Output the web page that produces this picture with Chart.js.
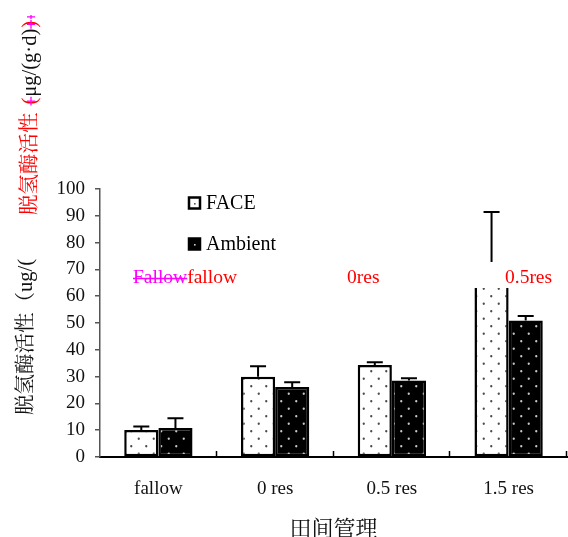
<!DOCTYPE html>
<html>
<head>
<meta charset="utf-8">
<script src="https://cdn.jsdelivr.net/npm/chart.js@4.4.1/dist/chart.umd.min.js"></script>
<style>
  html, body { margin: 0; padding: 0; background: #fff; }
  canvas { display: block; }
</style>
</head>
<body>
<canvas id="chart" width="568" height="537"></canvas>
<script>
const categories = ["fallow", "0 res", "0.5 res", "1.5 res"]
const faceValues = [10.1, 29.9, 34.3, 72.8]
const faceErrors = [1.3, 4.0, 1.1, 18.6]
const ambientValues = [10.8, 26.1, 28.5, 50.9]
const ambientErrors = [3.7, 1.8, 0.9, 1.7]
const yTicks = [0, 10, 20, 30, 40, 50, 60, 70, 80, 90, 100]

const SERIF = '"Liberation Serif", "Noto Serif CJK SC", "Noto Sans CJK SC", serif'

function dotPattern(bg, dot) {
  const c = document.createElement("canvas")
  c.width = 15
  c.height = 15
  const g = c.getContext("2d")
  g.fillStyle = bg
  g.fillRect(0, 0, 15, 15)
  g.fillStyle = dot
  for (const [x, y] of [[3.75, 3.75], [11.25, 11.25]]) {
    g.beginPath()
    g.arc(x, y, 1.15, 0, Math.PI * 2)
    g.fill()
  }
  return g.createPattern(c, "repeat")
}

const ctx0 = document.getElementById("chart").getContext("2d")
const facePattern = dotPattern("#ffffff", "#4a4a4a")
const ambientPattern = dotPattern("#000000", "#c8c8c8")

// error bars: line up from bar top with a cap
const errorBars = {
  id: "errorBars",
  afterDatasetsDraw(chart) {
    const { ctx, scales: { y } } = chart
    const errs = [faceErrors, ambientErrors]
    ctx.save()
    ctx.strokeStyle = "#000"
    ctx.lineWidth = 2
    chart.data.datasets.forEach((ds, di) => {
      chart.getDatasetMeta(di).data.forEach((bar, i) => {
        const top = y.getPixelForValue(ds.data[i] + errs[di][i])
        ctx.beginPath()
        ctx.moveTo(bar.x, bar.y)
        ctx.lineTo(bar.x, top)
        ctx.moveTo(bar.x - 8, top)
        ctx.lineTo(bar.x + 8, top)
        ctx.stroke()
      })
    })
    ctx.restore()
  }
}

// inward x ticks, the white annotation strip, legend and loose texts
const decorations = {
  id: "decorations",
  afterDraw(chart) {
    const { ctx, chartArea: a, scales: { x, y } } = chart
    ctx.save()

    // inward tick marks at category boundaries
    ctx.strokeStyle = "#000"
    ctx.lineWidth = 1.5
    const step = (a.right - a.left) / categories.length
    for (let i = 1; i <= categories.length; i++) {
      const px = Math.round(a.left + step * i) - 0.5
      ctx.beginPath()
      ctx.moveTo(px, a.bottom)
      ctx.lineTo(px, a.bottom - 6)
      ctx.stroke()
    }

    // white strip with red annotation row
    const rowY = y.getPixelForValue(66.8)
    ctx.fillStyle = "#fff"
    ctx.fillRect(a.left + 2, rowY - 16, a.right - a.left - 2, 26)

    ctx.font = "19.5px " + SERIF
    ctx.textBaseline = "middle"
    ctx.textAlign = "left"
    let tx = a.left + 33
    ctx.fillStyle = "#ff00ff"
    ctx.fillText("Fallow", tx, rowY)
    const fw = ctx.measureText("Fallow").width
    ctx.strokeStyle = "#ff00ff"
    ctx.lineWidth = 1.3
    ctx.beginPath()
    ctx.moveTo(tx, rowY + 0.5)
    ctx.lineTo(tx + fw, rowY + 0.5)
    ctx.stroke()
    ctx.fillStyle = "#ff0000"
    ctx.fillText("fallow", tx + fw, rowY)
    ctx.fillText("0res", a.left + 247, rowY)
    ctx.fillText("0.5res", a.left + 405, rowY)

    // legend
    const items = [["FACE", "#fff", 203], ["Ambient", "#000", 244]]
    items.forEach(([label, fill, cy]) => {
      ctx.fillStyle = fill
      ctx.fillRect(189, cy - 5.5, 11, 11)
      ctx.strokeStyle = "#000"
      ctx.lineWidth = 2.5
      ctx.strokeRect(189, cy - 5.5, 11, 11)
      ctx.fillStyle = fill === "#fff" ? "#555" : "#ccc"
      ctx.fillRect(194, cy, 1.6, 1.6)
      ctx.fillStyle = "#000"
      ctx.font = "20px " + SERIF
      ctx.fillText(label, 206, cy + 1)
    })

    // black y axis title
    ctx.save()
    ctx.translate(27, 415)
    ctx.rotate(-Math.PI / 2)
    ctx.font = "20.5px " + SERIF
    ctx.fillStyle = "#111"
    ctx.textAlign = "left"
    ctx.fillText("脱氢酶活性（ug/(", 0, 0)
    ctx.restore()

    // red stray title at the top
    ctx.save()
    ctx.translate(31, 215)
    ctx.rotate(-Math.PI / 2)
    ctx.font = "20.5px " + SERIF
    ctx.textAlign = "left"
    const parts = [["脱氢酶活性", "#ff0000"], ["(", "#ff0000"], ["μg/(g·d)", "#111"], [")", "#ff0000"]]
    let px = 0
    const parens = []
    parts.forEach(([t, c]) => {
      ctx.fillStyle = c
      ctx.fillText(t, px, 0)
      const w = ctx.measureText(t).width
      if (c === "#ff0000" && t.length === 1) parens.push([px, w])
      px += w + (t === "脱氢酶活性" ? 8 : 1)
    })
    ctx.strokeStyle = "#ff00ff"
    ctx.lineWidth = 1.3
    parens.forEach(([p, w]) => {
      ctx.beginPath()
      ctx.moveTo(p - 1, 0)
      ctx.lineTo(p + w + 1, 0)
      ctx.moveTo(p + w / 2, -4)
      ctx.lineTo(p + w / 2, 4)
      ctx.stroke()
    })
    ctx.beginPath()
    ctx.moveTo(px + 1, 0)
    ctx.lineTo(px + 5, 0)
    ctx.moveTo(px + 3, -4)
    ctx.lineTo(px + 3, 4)
    ctx.stroke()
    ctx.restore()

    ctx.restore()
  }
}

new Chart(ctx0, {
  type: "bar",
  data: {
    labels: categories,
    datasets: [
      {
        label: "FACE",
        data: faceValues,
        backgroundColor: facePattern,
        borderColor: "#000",
        borderWidth: 2.5,
        borderSkipped: false
      },
      {
        label: "Ambient",
        data: ambientValues,
        backgroundColor: ambientPattern,
        borderColor: "#000",
        borderWidth: 2.5,
        borderSkipped: false
      }
    ]
  },
  options: {
    responsive: false,
    animation: false,
    devicePixelRatio: 1,
    layout: { padding: { top: 189, right: 1, left: 0, bottom: 0 } },
    datasets: { bar: { categoryPercentage: 0.585, barPercentage: 1.0 } },
    plugins: { legend: { display: false }, tooltip: { enabled: false } },
    scales: {
      x: {
        grid: { display: false },
        border: { color: "#000", width: 2 },
        ticks: { color: "#111", font: { family: SERIF, size: 19 }, padding: 13 },
        title: {
          display: true,
          text: "田间管理",
          color: "#111",
          font: { family: SERIF, size: 22 },
          padding: { top: 0, bottom: -6 }
        },
        afterFit(scale) { scale.height = 80 }
      },
      y: {
        min: 0,
        max: 100,
        afterBuildTicks(scale) { scale.ticks = yTicks.map(v => ({ value: v })) },
        grid: { drawOnChartArea: false, drawTicks: true, tickLength: 5, color: "#555", lineWidth: 1.5 },
        border: { color: "#555", width: 1.5 },
        ticks: { color: "#111", font: { family: SERIF, size: 19 }, padding: 10 },
        afterFit(scale) { scale.width = 100 }
      }
    }
  },
  plugins: [errorBars, decorations]
})
</script>
</body>
</html>
